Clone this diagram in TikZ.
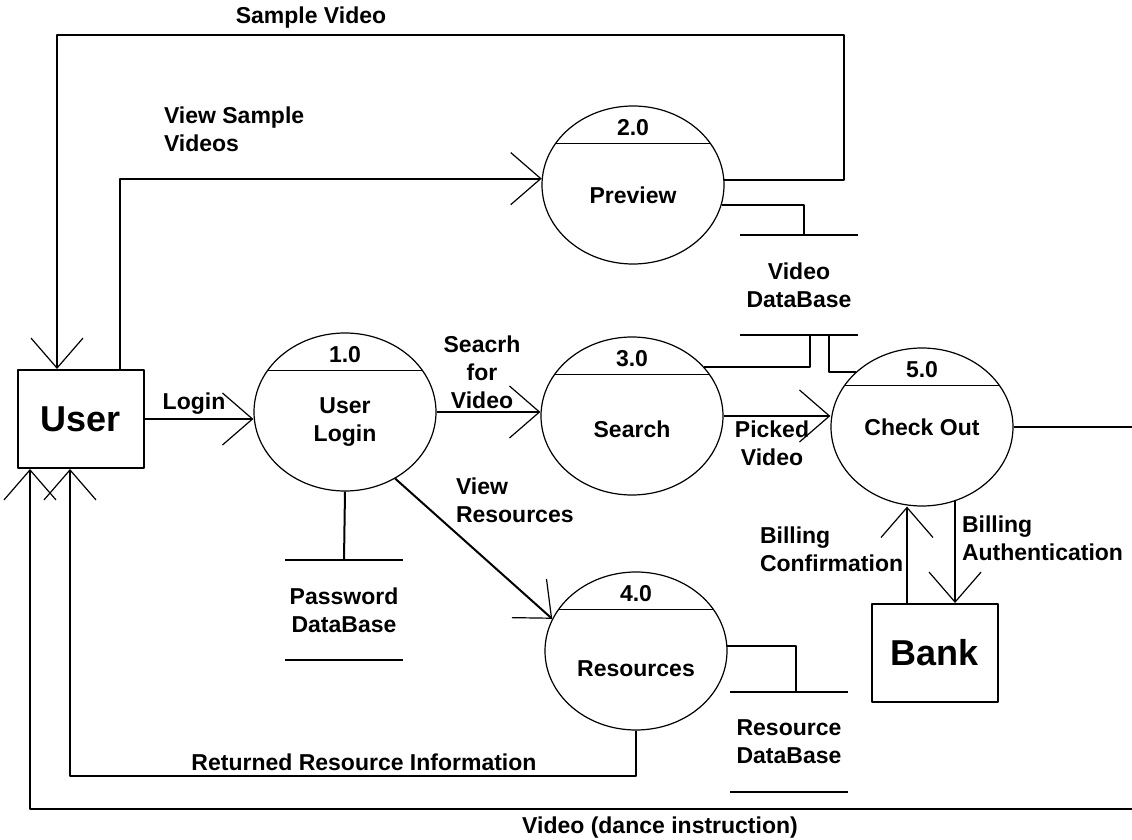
\documentclass[tikz,border=0pt]{standalone}
\usepackage{fontspec}
\setmainfont{Liberation Sans}
\usetikzlibrary{arrows.meta,shapes.geometric}
\begin{document}
\begin{tikzpicture}[x=0.5pt, y=-0.5pt, font=\bfseries\fontsize{11.5}{14}\selectfont, line width=1pt, line join=round, >={Straight Barb[length=15pt,width=26pt,line width=0.6pt]},
	proc/.style={ellipse, draw, line width=0.6pt, minimum width=91pt, minimum height=79pt, inner sep=0pt},
	ext/.style={rectangle, draw, minimum width=63pt, minimum height=49pt, font=\bfseries\fontsize{18}{22}\selectfont},
	store/.style={align=center, minimum width=58pt, minimum height=49pt, inner sep=0pt},
	lbl/.style={align=left, inner sep=0pt, anchor=west}]
	\useasboundingbox (0,0) rectangle (1132,840);
	\node[ext] (user) at (81,419) {User};
	\node[ext] (bank) at (935,653) {Bank};
	\node[proc] (p1) at (345,412) {};
	\node[proc] (p2) at (633,185) {};
	\node[proc] (p3) at (632,416) {};
	\node[proc] (p4) at (636,651) {};
	\node[proc] (p5) at (922,427) {};
	\foreach \n/\num/\dy/\txt in {p1/1.0/-5pt/User\\Login, p2/2.0/-5pt/Preview, p3/3.0/-6.5pt/Search, p4/4.0/-9pt/Resources, p5/5.0/0pt/Check Out} {
		\draw[line width=0.6pt] (\n.152) -- (\n.28);
		\node (\n-num) at ([yshift=28.5pt]\n.center) {\num};
		\node[align=center] (\n-txt) at ([yshift=\dy]\n.center) {\txt};
	}
	\node[store] (vdb) at (799,285) {Video\\DataBase};
	\node[store] (pdb) at (344,610) {Password\\DataBase};
	\node[store] (rdb) at (789,742) {Resource\\DataBase};
	\foreach \s in {vdb,pdb,rdb} {
		\draw (\s.north west) -- (\s.north east);
		\draw (\s.south west) -- (\s.south east);
	}
	\draw[->] (user.east) -- (user.east -| p1.west);
	\draw[->] (p1.east) -- (p1.east -| p3.west);
	\draw[->] (p3.east) -- (p3.east -| p5.west);
	\draw[->] (p1.-53) -- (p4.159);
	\draw (p1.south) -- (pdb.north);
	\draw (p2.-13) -| ([xshift=2.5pt]vdb.north);
	\draw (p3.34) -| ([xshift=5.5pt]vdb.south);
	\draw ([xshift=15pt]vdb.south) |- (p5.140);
	\draw (p4.3) -| ([xshift=3.5pt]rdb.north);
	\coordinate (sv) at (844,35);
	\draw[->] (p2.3) -| (sv) -| ([xshift=-12pt]user.north);
	\draw[->] ([xshift=19.5pt]user.north) |- (p2.176);
	\draw[->] (p4.south) -- ++(0,45) -| ([xshift=-5.5pt]user.south);
	\coordinate (vd) at (1140,809);
	\draw[->] (p5.east) -| (vd) -| ([xshift=-25.5pt]user.south);
	\coordinate (bc) at ([xshift=-14pt]bank.north);
	\coordinate (ba) at (p5.-66);
	\draw[->] (bc) -- (bc |- p5.south);
	\draw[->] (ba) -- (ba |- bank.north);
	\node (svl) at (311,18) {Sample Video};
	\node[lbl] (vsl) at (163,129) {View Sample\\Videos};
	\node (lgl) at (194,404) {Login};
	\node[align=center] (sfl) at (482,372) {Seacrh\\for\\Video};
	\node[lbl] (vrl) at (455,500) {View\\Resources};
	\node[align=center] (pvl) at (772,443) {Picked\\Video};
	\node[lbl] (bcl) at (759,549) {Billing\\Confirmation};
	\node[lbl] (bal) at (961,538) {Billing\\Authentication};
	\node (rrl) at (364,762) {Returned Resource Information};
	\node (vdl) at (660,828) {Video (dance instruction)};
\end{tikzpicture}
\end{document}
